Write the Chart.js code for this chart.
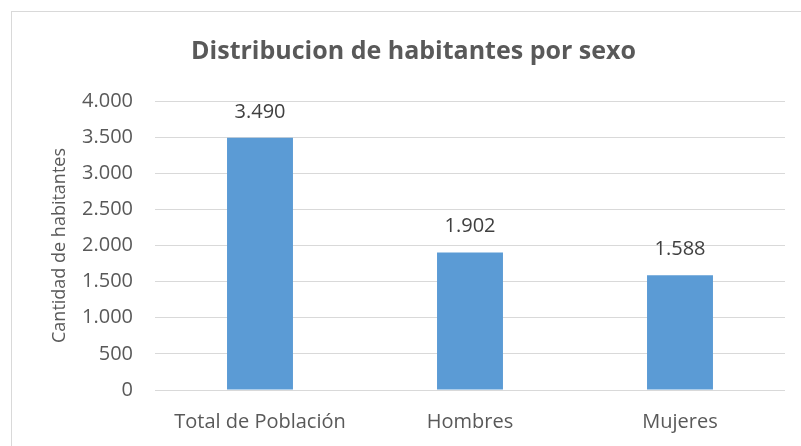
<!DOCTYPE html>
<html>
<head>
<meta charset="utf-8">
<script src="https://cdn.jsdelivr.net/npm/chart.js@4"></script>
<style>
  html,body{margin:0;padding:0;background:#fff;overflow:hidden}
  #wrap{position:relative;width:801px;height:446px}
  #frame{position:absolute;left:11px;top:11px;right:-2px;bottom:-2px;border:1px solid #d9d9d9;pointer-events:none}
</style>
</head>
<body>
<div id="wrap">
  <canvas id="ch"></canvas>
  <div id="frame"></div>
</div>
<script>
// datos
const categorias = ['Total de Población','Hombres','Mujeres'];
const habitantes = [3490, 1902, 1588];
const yTicks = [0,500,1000,1500,2000,2500,3000,3500,4000];

const TXT = '#595959';
const FONT = "'Open Sans'";

function fmtMiles(v){ return String(v).replace(/\B(?=(\d{3})+(?!\d))/g,'.'); }

// etiquetas encima de cada barra
const valueLabels = {
  id:'valueLabels',
  afterDatasetsDraw(chart){
    const ctx = chart.ctx;
    ctx.save();
    ctx.font = `20px ${FONT}`;
    ctx.fillStyle = '#404040';
    ctx.textAlign = 'center';
    ctx.textBaseline = 'middle';
    chart.getDatasetMeta(0).data.forEach((bar,i)=>{
      ctx.fillText(fmtMiles(habitantes[i]), bar.x, bar.y - 26);
    });
    ctx.restore();
  }
};

new Chart(document.getElementById('ch'),{
  type:'bar',
  data:{
    labels:categorias,
    datasets:[{
      data:habitantes,
      backgroundColor:'#5b9bd5',
      categoryPercentage:1,
      barPercentage:0.314
    }]
  },
  options:{
    responsive:true,maintainAspectRatio:false,animation:false,
    layout:{padding:{left:42,right:16,top:0,bottom:0}},
    plugins:{
      legend:{display:false},
      tooltip:{enabled:false},
      title:{display:true,text:'Distribucion de habitantes por sexo',color:TXT,
        font:{family:FONT,size:25,weight:'bold'},padding:{top:37,bottom:34}}
    },
    scales:{
      x:{
        grid:{display:false,drawTicks:false},
        border:{display:false},
        ticks:{font:{family:FONT,size:20},color:TXT,padding:20},
        afterFit(s){ s.height = 56; }
      },
      y:{
        min:0,max:4000,
        afterBuildTicks(s){ s.ticks = yTicks.map(v=>({value:v})); },
        grid:{color:'#d9d9d9',lineWidth:1,drawTicks:false},
        border:{display:false},
        ticks:{font:{family:FONT,size:20},color:TXT,padding:22,callback:v=>fmtMiles(v)},
        title:{display:true,text:'Cantidad de habitantes',color:TXT,
          font:{family:FONT,size:18},padding:{top:7,bottom:0}},
        afterFit(s){ s.width = 113; }
      }
    }
  },
  plugins:[valueLabels]
});
</script>
</body>
</html>
